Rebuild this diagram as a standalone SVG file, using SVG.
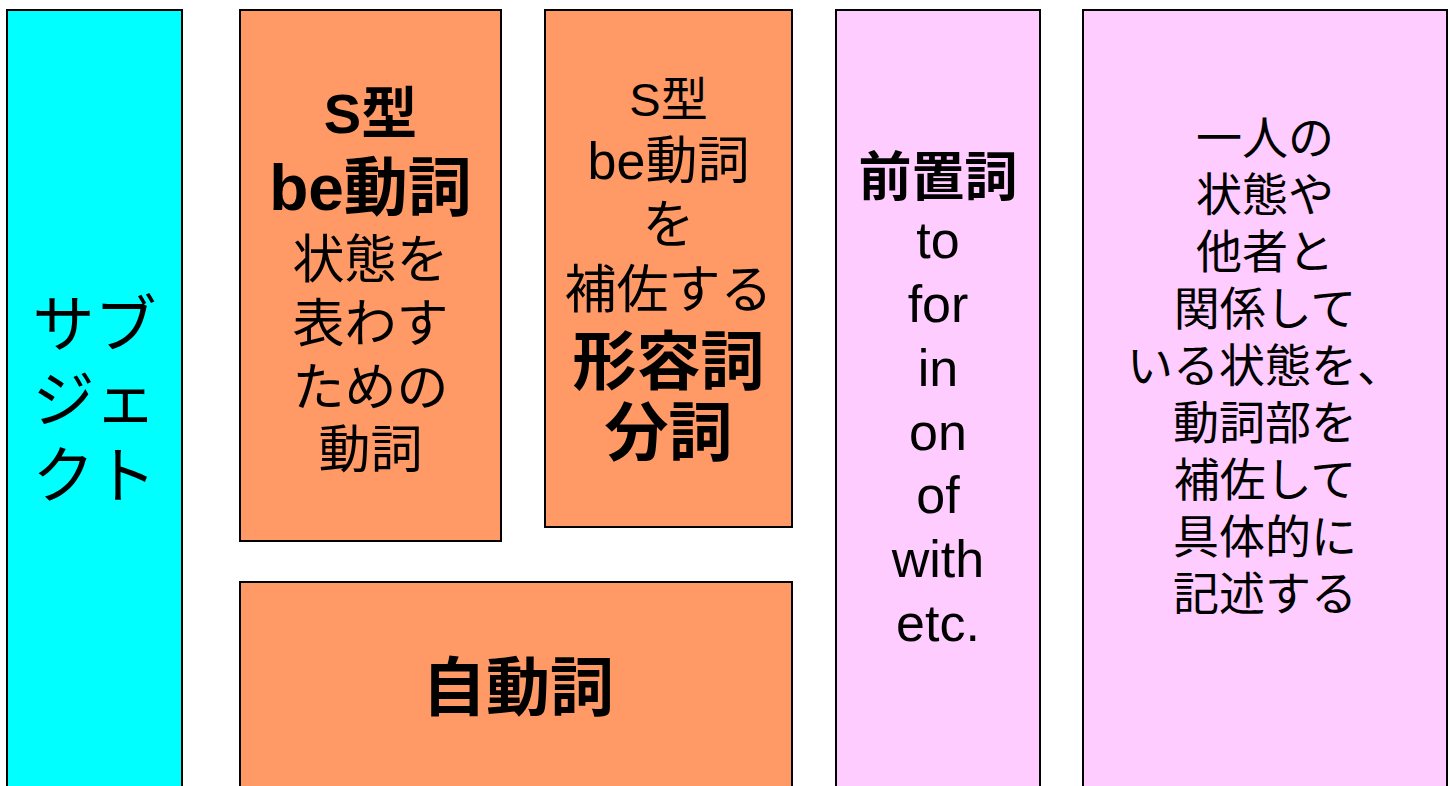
<svg xmlns="http://www.w3.org/2000/svg" width="1450" height="786" viewBox="0 0 1450 786">
<style>
  .box { stroke: #000; stroke-width: 2; }
  .cyan { fill: #00FFFF; }
  .orange { fill: #FF9966; }
  .pink { fill: #FFCCFF; }
  text { font-family: "Liberation Sans", "Noto Sans CJK JP", sans-serif; fill: #000; text-anchor: middle; }
  .b { font-weight: bold; }
</style>
<rect width="1450" height="786" fill="#fff"/>
<g id="subject">
  <rect class="box cyan" x="7" y="10" width="175" height="800"/>
  <text x="94.5" y="347" font-size="62">サブ</text>
  <text x="94.5" y="422" font-size="62">ジェ</text>
  <text x="94.5" y="498" font-size="62">クト</text>
</g>
<g id="be-verb">
  <rect class="box orange" x="240" y="10" width="261" height="531"/>
  <text class="b" x="370.5" y="133" font-size="56">S型</text>
  <text class="b" x="370.5" y="210" font-size="64">be動詞</text>
  <text x="370.5" y="278" font-size="52">状態を</text>
  <text x="370.5" y="342" font-size="52">表わす</text>
  <text x="370.5" y="406" font-size="52">ための</text>
  <text x="370.5" y="468" font-size="52">動詞</text>
</g>
<g id="complement">
  <rect class="box orange" x="545" y="10" width="247" height="517"/>
  <text x="668.5" y="116" font-size="47">S型</text>
  <text x="668.5" y="179" font-size="52">be動詞</text>
  <text x="668.5" y="243" font-size="52">を</text>
  <text x="668.5" y="308" font-size="52">補佐する</text>
  <text class="b" x="668.5" y="384" font-size="64">形容詞</text>
  <text class="b" x="668.5" y="455" font-size="64">分詞</text>
</g>
<g id="intransitive">
  <rect class="box orange" x="240" y="582" width="552" height="230"/>
  <text class="b" x="518" y="710" font-size="64">自動詞</text>
</g>
<g id="preposition">
  <rect class="box pink" x="836" y="10" width="204" height="800"/>
  <text class="b" x="938" y="196" font-size="53">前置詞</text>
  <text x="938" y="258" font-size="52">to</text>
  <text x="938" y="322" font-size="52">for</text>
  <text x="938" y="386" font-size="52">in</text>
  <text x="938" y="450" font-size="52">on</text>
  <text x="938" y="513" font-size="52">of</text>
  <text x="938" y="577" font-size="52">with</text>
  <text x="938" y="641" font-size="52">etc.</text>
</g>
<g id="description">
  <rect class="box pink" x="1083" y="10" width="364" height="800"/>
  <text x="1265" y="154" font-size="46">一人の</text>
  <text x="1265" y="211" font-size="46">状態や</text>
  <text x="1265" y="268" font-size="46">他者と</text>
  <text x="1265" y="325" font-size="46">関係して</text>
  <text x="1265" y="382" font-size="46">いる状態を、</text>
  <text x="1265" y="439" font-size="46">動詞部を</text>
  <text x="1265" y="496" font-size="46">補佐して</text>
  <text x="1265" y="553" font-size="46">具体的に</text>
  <text x="1265" y="610" font-size="46">記述する</text>
</g>
<g id="connectors"></g>
</svg>
